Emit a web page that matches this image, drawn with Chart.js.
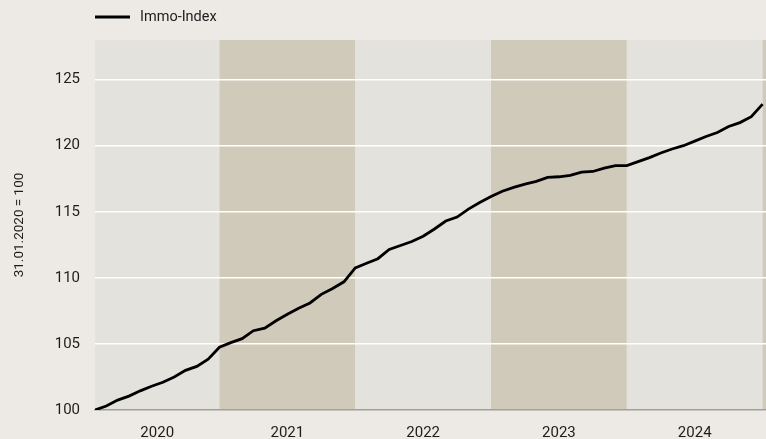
<!DOCTYPE html>
<html>
<head>
<meta charset="utf-8">
<script src="https://cdn.jsdelivr.net/npm/chart.js@4.4.1/dist/chart.umd.min.js"></script>
<style>
  html, body { margin: 0; padding: 0; background: #edeae5; }
  #wrap { width: 766px; height: 439px; }
</style>
</head>
<body>
<div id="wrap"><canvas id="chart" width="766" height="439"></canvas></div>
<script>
// Immo-Index, Monatsendwerte ab 31.01.2020 (= 100)
const immoIndex = [
  100.0, 100.3, 100.75, 101.05, 101.45, 101.8, 102.1, 102.5, 103.0, 103.3, 103.85, 104.75,
  105.1, 105.4, 106.0, 106.2, 106.75, 107.25, 107.7, 108.1, 108.75, 109.2, 109.7, 110.75,
  111.1, 111.45, 112.15, 112.45, 112.75, 113.15, 113.7, 114.3, 114.6, 115.2, 115.7, 116.15,
  116.55, 116.85, 117.1, 117.3, 117.6, 117.65, 117.75, 118.0, 118.05, 118.3, 118.5, 118.5,
  118.8, 119.1, 119.45, 119.75, 120.0, 120.35, 120.7, 121.0, 121.45, 121.75, 122.2, 123.15
];

// Jahresbänder (Monatsindex, 0 = Jan 2020)
const years     = ['2020', '2021', '2022', '2023', '2024', '2025'];
const yearStart = [0, 11, 23, 35, 47, 59];
const yearEnd   = [11, 23, 35, 47, 59, 71];

const yTicks = [100, 105, 110, 115, 120, 125];

const FONT = "'Liberation Sans Narrow', 'Roboto', 'Liberation Sans', sans-serif";
const TEXT = '#1c1c1c';
const BAND_LIGHT = '#e4e2dc';
const BAND_DARK = '#d0cabb';

// ── Hintergrundbänder ─────────────────────────────────
const bandPlugin = {
  id: 'yearBands',
  beforeDraw(chart) {
    const { ctx, chartArea: a, scales: { x } } = chart;
    ctx.save();
    years.forEach((y, i) => {
      const x0 = Math.max(x.getPixelForValue(yearStart[i]), a.left);
      const x1 = Math.min(x.getPixelForValue(yearEnd[i]), a.right);
      if (x1 <= x0) return;
      ctx.fillStyle = i % 2 === 0 ? BAND_LIGHT : BAND_DARK;
      ctx.fillRect(x0, a.top, x1 - x0, a.bottom - a.top);
    });
    ctx.restore();
  }
};

// ── Legende ───────────────────────────────────────────
const legendPlugin = {
  id: 'topLegend',
  afterDraw(chart) {
    const { ctx, chartArea: a } = chart;
    const ds = chart.data.datasets[0];
    ctx.save();
    ctx.strokeStyle = ds.borderColor;
    ctx.lineWidth = 3;
    ctx.beginPath();
    ctx.moveTo(a.left, 17);
    ctx.lineTo(a.left + 35, 17);
    ctx.stroke();
    ctx.fillStyle = TEXT;
    ctx.font = '14.5px ' + FONT;
    ctx.textBaseline = 'middle';
    ctx.fillText(ds.label, a.left + 45, 17);
    ctx.restore();
  }
};

const ctx = document.getElementById('chart').getContext('2d');
new Chart(ctx, {
  type: 'line',
  data: {
    datasets: [{
      label: 'Immo-Index',
      data: immoIndex.map((v, i) => ({ x: i, y: v })),
      borderColor: '#000000',
      backgroundColor: '#000000',
      borderWidth: 2.8,
      pointRadius: 0,
      tension: 0,
      fill: false,
    }]
  },
  options: {
    responsive: false,
    animation: false,
    layout: { padding: { top: 40, right: 0, left: 0, bottom: 0 } },
    plugins: {
      legend: { display: false },
      tooltip: { enabled: false },
    },
    scales: {
      x: {
        type: 'linear',
        min: 0,
        max: 59.3,
        afterFit: s => { s.height = 29; },
        afterBuildTicks: s => {
          s.ticks = years
            .map((y, i) => ({ value: (yearStart[i] + yearEnd[i]) / 2 }))
            .filter(t => t.value <= s.max);
        },
        grid: { display: false, drawTicks: false },
        border: { display: true, color: '#a39f97', width: 1.5 },
        ticks: {
          padding: 14,
          color: TEXT,
          font: { family: FONT, size: 15 },
          maxRotation: 0,
          autoSkip: false,
          callback: v => years[yearStart.findIndex((s, i) => v > s && v < yearEnd[i])],
        },
      },
      y: {
        min: 100,
        max: 128,
        afterFit: s => { s.width = 95; },
        afterBuildTicks: s => { s.ticks = yTicks.map(v => ({ value: v })); },
        grid: {
          drawTicks: false,
          lineWidth: 1.5,
          color: c => c.tick && c.tick.value === 100 ? 'rgba(0,0,0,0)' : '#ffffff',
        },
        border: { display: false },
        ticks: {
          padding: 15,
          color: TEXT,
          font: { family: FONT, size: 15 },
        },
        title: {
          display: true,
          text: '31.01.2020 = 100',
          color: TEXT,
          font: { family: FONT, size: 13.5 },
          padding: { top: 12, bottom: 0 },
        },
      },
    },
  },
  plugins: [bandPlugin, legendPlugin],
});
</script>
</body>
</html>
